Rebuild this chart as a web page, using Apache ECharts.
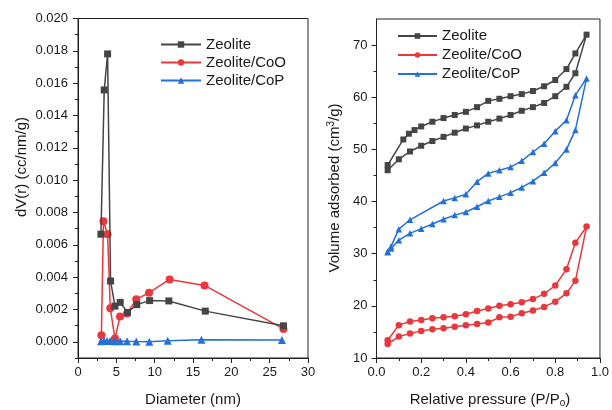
<!DOCTYPE html>
<html>
<head>
<meta charset="utf-8">
<script src="https://cdn.jsdelivr.net/npm/echarts@6/dist/echarts.min.js"></script>
<style>
html,body{margin:0;padding:0;background:#fff;}
#chart{width:612px;height:410px;}
</style>
</head>
<body>
<div id="chart"></div>
<script>
// ---- Left panel: pore size distribution ----
var seriesNames = ['Zeolite', 'Zeolite/CoO', 'Zeolite/CoP'];
var zeoD = [2.99, 3.42, 3.86, 4.25, 4.82, 5.5, 6.45, 7.67, 9.34, 11.85, 16.6, 26.8];
var zeoDV = [0.00666, 0.01558, 0.01781, 0.00376, 0.00221, 0.00244, 0.00182, 0.0023, 0.00255, 0.00253, 0.0019, 0.00099];
var cooD = [3.05, 3.32, 3.86, 4.21, 4.82, 5.48, 6.4, 7.6, 9.27, 11.95, 16.5, 26.8];
var cooDV = [0.00041, 0.00746, 0.00666, 0.00208, 0.0002, 0.00157, 0.00176, 0.00263, 0.00304, 0.00386, 0.00349, 0.0008];
var copD = [3.0, 3.4, 3.8, 4.2, 4.8, 5.5, 6.4, 7.6, 9.3, 11.7, 16.1, 26.6];
var copDV = [0.00004, 0.00006, 0.00005, 0.00005, 0.00004, 0.00004, 0.00003, 0.00002, 0.00001, 0.00006, 0.00013, 0.00012];
var leftXTicks = [0, 5, 10, 15, 20, 25, 30];
var leftXMinor = [2.5, 7.5, 12.5, 17.5, 22.5, 27.5];
var leftYTicks = [0, 0.002, 0.004, 0.006, 0.008, 0.010, 0.012, 0.014, 0.016, 0.018, 0.020];
var leftYMinor = [-0.001, 0.001, 0.003, 0.005, 0.007, 0.009, 0.011, 0.013, 0.015, 0.017, 0.019];

// ---- Right panel: N2 isotherms ----
var zeoAdsP = [0.05, 0.1, 0.15, 0.2, 0.25, 0.3, 0.35, 0.4, 0.45, 0.5, 0.55, 0.6, 0.65, 0.7, 0.75, 0.8, 0.85, 0.89, 0.94];
var zeoAdsV = [46.0, 48.1, 49.6, 50.7, 51.6, 52.4, 53.2, 54.0, 54.6, 55.3, 55.9, 56.6, 57.4, 58.1, 58.9, 60.2, 62.0, 64.6, 72.0];
var zeoDesP = [0.89, 0.85, 0.8, 0.75, 0.7, 0.65, 0.6, 0.55, 0.5, 0.45, 0.4, 0.35, 0.3, 0.25, 0.2, 0.17, 0.145, 0.12, 0.05];
var zeoDesV = [68.4, 65.4, 63.3, 62.1, 61.2, 60.6, 60.2, 59.7, 59.3, 58.1, 57.2, 56.6, 56.0, 55.3, 54.4, 53.7, 53.0, 51.9, 47.0];
var cooAdsP = [0.05, 0.1, 0.15, 0.2, 0.25, 0.3, 0.35, 0.4, 0.45, 0.5, 0.55, 0.6, 0.65, 0.7, 0.75, 0.8, 0.85, 0.89, 0.94];
var cooAdsV = [12.7, 14.1, 14.7, 15.2, 15.5, 15.7, 16.0, 16.3, 16.5, 16.8, 17.8, 17.9, 18.6, 19.1, 19.8, 20.8, 22.4, 24.8, 35.2];
var cooDesP = [0.89, 0.85, 0.8, 0.75, 0.7, 0.65, 0.6, 0.55, 0.5, 0.45, 0.4, 0.35, 0.3, 0.25, 0.2, 0.15, 0.1, 0.05];
var cooDesV = [32.1, 27.0, 23.9, 22.3, 21.3, 20.7, 20.3, 20.0, 19.5, 19.0, 18.4, 18.0, 17.8, 17.6, 17.3, 17.0, 16.3, 13.4];
var copAdsP = [0.05, 0.065, 0.1, 0.15, 0.2, 0.25, 0.3, 0.35, 0.4, 0.45, 0.5, 0.55, 0.6, 0.65, 0.7, 0.75, 0.8, 0.85, 0.89, 0.94];
var copAdsV = [30.4, 31.0, 32.6, 33.9, 34.8, 35.7, 36.6, 37.4, 38.0, 39.0, 40.1, 40.9, 41.7, 42.7, 43.9, 45.5, 47.4, 50.0, 53.7, 63.6];
var copDesP = [0.89, 0.85, 0.8, 0.75, 0.7, 0.65, 0.6, 0.55, 0.5, 0.45, 0.4, 0.35, 0.3, 0.15, 0.1, 0.065, 0.05];
var copDesV = [60.4, 55.6, 53.5, 51.1, 49.5, 47.8, 46.6, 46.0, 45.4, 43.8, 41.4, 40.7, 40.1, 36.5, 34.7, 31.4, 30.3];
var rightXTicks = [0, 0.2, 0.4, 0.6, 0.8, 1.0];
var rightXMinor = [0.1, 0.3, 0.5, 0.7, 0.9];
var rightYTicks = [10, 20, 30, 40, 50, 60, 70];
var rightYMinor = [15, 25, 35, 45, 55, 65];

var colors = ['#454545', '#e8383d', '#2370d8'];

function pairs(xs, ys) { return xs.map(function (x, i) { return [x, ys[i]]; }); }
function loop(ap, av, dp, dv) { return pairs(ap, av).concat(pairs(dp, dv)); }

var FONT = 'Liberation Sans, Arial, sans-serif';
var TXT = '#1a1a1a';

function majorAxis(pos, gridIndex, min, max, ticks, fmt, margin) {
  return {
    type: 'value', gridIndex: gridIndex, position: pos, min: min, max: max,
    axisLine: { show: true, onZero: false, lineStyle: { color: '#222', width: 1 } },
    axisTick: { show: true, inside: false, length: 5, customValues: ticks, lineStyle: { color: '#222' } },
    axisLabel: { show: true, customValues: ticks, formatter: fmt, margin: margin, fontSize: 13, fontFamily: FONT, color: TXT },
    splitLine: { show: false }
  };
}
function minorAxis(pos, gridIndex, min, max, ticks) {
  return {
    type: 'value', gridIndex: gridIndex, position: pos, min: min, max: max,
    axisLine: { show: false, onZero: false },
    axisTick: { show: true, inside: false, length: 3, customValues: ticks, lineStyle: { color: '#222' } },
    axisLabel: { show: false },
    splitLine: { show: false }
  };
}

var chart = echarts.init(document.getElementById('chart'), null, { renderer: 'canvas' });
var option = {
  animation: false,
  backgroundColor: '#fff',
  textStyle: { fontFamily: FONT },
  grid: [
    { left: 78, right: 304, top: 18.5, bottom: 52, show: true, borderColor: '#222', borderWidth: 1, backgroundColor: 'transparent' },
    { left: 376.5, right: 9, top: 19, bottom: 52, show: true, borderColor: '#222', borderWidth: 1, backgroundColor: 'transparent' }
  ],
  xAxis: [
    majorAxis('bottom', 0, 0, 30, leftXTicks, function (v) { return String(v); }, 8),
    minorAxis('bottom', 0, 0, 30, leftXMinor),
    majorAxis('bottom', 1, 0, 1, rightXTicks, function (v) { return v.toFixed(1); }, 8),
    minorAxis('bottom', 1, 0, 1, rightXMinor)
  ],
  yAxis: [
    majorAxis('left', 0, -0.001, 0.020, leftYTicks, function (v) { return v.toFixed(3); }, 10),
    minorAxis('left', 0, -0.001, 0.020, leftYMinor),
    majorAxis('left', 1, 10, 75, rightYTicks, function (v) { return String(v); }, 9),
    minorAxis('left', 1, 10, 75, rightYMinor)
  ],
  legend: [
    {
      left: 155, top: 32, orient: 'vertical', itemWidth: 40, itemHeight: 8, itemGap: 3,
      textStyle: { fontSize: 15, fontFamily: FONT, color: TXT },
      data: seriesNames.map(function (n) { return { name: n }; }),
      selectedMode: false
    },
    {
      left: 392, top: 23.5, orient: 'vertical', itemWidth: 39, itemHeight: 7, itemGap: 4,
      textStyle: { fontSize: 15, fontFamily: FONT, color: TXT },
      data: seriesNames.map(function (n) { return { name: n }; }),
      selectedMode: false
    }
  ],
  graphic: [
    {
      type: 'text', x: 22, y: 167, rotation: Math.PI / 2,
      style: { text: 'dV(r) (cc/nm/g)', fontSize: 15, fontFamily: FONT, fill: TXT, align: 'center', verticalAlign: 'middle' }
    },
    {
      type: 'text', x: 335, y: 188, rotation: Math.PI / 2,
      style: {
        text: '{a|Volume adsorbed (cm}{s|3}{a|/g)}', fontFamily: FONT, fill: TXT, align: 'center', verticalAlign: 'middle',
        rich: { a: { fontSize: 15, fontFamily: FONT, fill: TXT }, s: { fontSize: 10, fontFamily: FONT, fill: TXT, verticalAlign: 'top', padding: [0, 0, 7, 0] } }
      }
    },
    {
      type: 'text', x: 193, y: 400,
      style: { text: 'Diameter (nm)', fontSize: 15, fontFamily: FONT, fill: TXT, align: 'center', verticalAlign: 'middle' }
    },
    {
      type: 'text', x: 490, y: 400,
      style: {
        text: '{a|Relative pressure (P/P}{s|o}{a|)}', fontFamily: FONT, fill: TXT, align: 'center', verticalAlign: 'middle',
        rich: { a: { fontSize: 15, fontFamily: FONT, fill: TXT }, s: { fontSize: 10, fontFamily: FONT, fill: TXT, verticalAlign: 'bottom', padding: [7, 0, 0, 0] } }
      }
    }
  ],
  series: [
    { name: seriesNames[0], type: 'line', xAxisIndex: 0, yAxisIndex: 0, data: pairs(zeoD, zeoDV), symbol: 'rect', symbolSize: 7, color: colors[0], lineStyle: { width: 1.5 }, z: 3 },
    { name: seriesNames[1], type: 'line', xAxisIndex: 0, yAxisIndex: 0, data: pairs(cooD, cooDV), symbol: 'circle', symbolSize: 8, color: colors[1], lineStyle: { width: 1.5 }, z: 2 },
    { name: seriesNames[2], type: 'line', xAxisIndex: 0, yAxisIndex: 0, data: pairs(copD, copDV), symbol: 'triangle', symbolSize: 8, color: colors[2], lineStyle: { width: 1.5 }, z: 4 },
    { name: seriesNames[0], type: 'line', xAxisIndex: 2, yAxisIndex: 2, data: loop(zeoAdsP, zeoAdsV, zeoDesP, zeoDesV), symbol: 'rect', symbolSize: 6, color: colors[0], lineStyle: { width: 1.5 } },
    { name: seriesNames[1], type: 'line', xAxisIndex: 2, yAxisIndex: 2, data: loop(cooAdsP, cooAdsV, cooDesP, cooDesV), symbol: 'circle', symbolSize: 6.5, color: colors[1], lineStyle: { width: 1.5 } },
    { name: seriesNames[2], type: 'line', xAxisIndex: 2, yAxisIndex: 2, data: loop(copAdsP, copAdsV, copDesP, copDesV), symbol: 'triangle', symbolSize: 6.5, color: colors[2], lineStyle: { width: 1.5 } }
  ]
};
chart.setOption(option);
</script>
</body>
</html>
